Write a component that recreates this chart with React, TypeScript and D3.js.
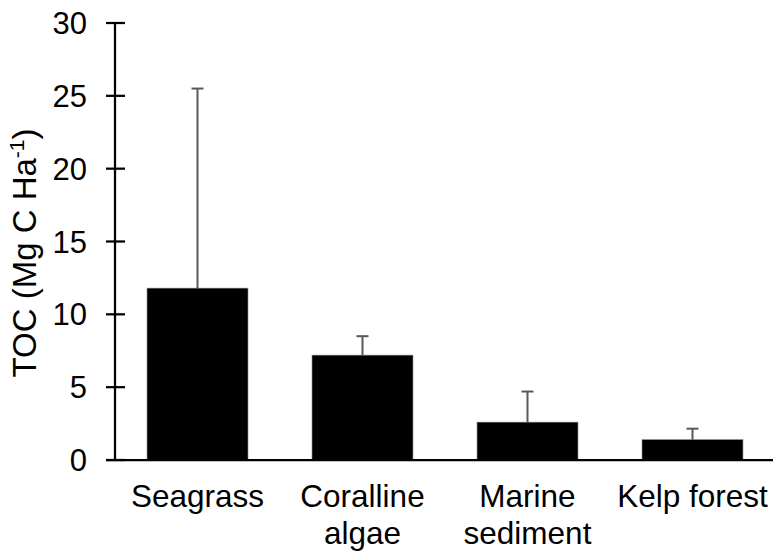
import React from 'react';
import * as d3 from 'd3';

const width = 773;
const height = 552;

const categories = ['Seagrass', 'Coralline algae', 'Marine sediment', 'Kelp forest'];
const labelLines = [['Seagrass'], ['Coralline', 'algae'], ['Marine', 'sediment'], ['Kelp forest']];
const values = [11.8, 7.2, 2.6, 1.4];
const errors = [13.7, 1.3, 2.1, 0.75];
const yTicks = [0, 5, 10, 15, 20, 25, 30];

const font = 'Arial, "Liberation Sans", sans-serif';

export default function App() {
  const x = d3.scaleBand<string>()
    .domain(categories)
    .range([115, 775])
    .paddingInner(0.388)
    .paddingOuter(0.194);
  const y = d3.scaleLinear().domain([0, 30]).range([460, 23]);

  const axisX = 115;

  return (
    <svg width={width} height={height} style={{ position: 'absolute', left: 0, top: 0, background: '#fff' }}>
      {/* bars */}
      {categories.map((c, i) => (
        <rect key={c} x={x(c)} y={y(values[i])} width={x.bandwidth()} height={y(0) - y(values[i])}
          fill="#000" stroke="#8c8c8c" strokeWidth={0.6} />
      ))}
      {/* error bars, upper only */}
      {categories.map((c, i) => {
        const cx = (x(c) as number) + x.bandwidth() / 2;
        const top = y(values[i] + errors[i]);
        return (
          <g key={c} stroke="#595959" strokeWidth={2}>
            <line x1={cx} x2={cx} y1={y(values[i])} y2={top} />
            <line x1={cx - 6} x2={cx + 6} y1={top} y2={top} />
          </g>
        );
      })}
      {/* y axis */}
      <line x1={axisX} x2={axisX} y1={y(30)} y2={y(0)} stroke="#000" strokeWidth={2.25} />
      {yTicks.map(t => (
        <g key={t}>
          <line x1={axisX - 9} x2={axisX + 10} y1={y(t)} y2={y(t)} stroke="#000" strokeWidth={2.25} />
          <text x={87} y={y(t)} dy="0.36em" textAnchor="end" fontFamily={font} fontSize={31} fill="#000">{t}</text>
        </g>
      ))}
      {/* baseline */}
      <line x1={axisX - 9} x2={773} y1={y(0)} y2={y(0)} stroke="#000" strokeWidth={2.25} />
      {/* category labels */}
      {categories.map((c, i) => (
        <text key={c} x={(x(c) as number) + x.bandwidth() / 2} y={507} textAnchor="middle"
          fontFamily={font} fontSize={31.5} fill="#000">
          {labelLines[i].map((l, j) => (
            <tspan key={j} x={(x(c) as number) + x.bandwidth() / 2} dy={j === 0 ? 0 : 37}>{l}</tspan>
          ))}
        </text>
      ))}
      {/* y axis title */}
      <text transform={`translate(36, 253) rotate(-90)`} textAnchor="middle" fontFamily={font} fontSize={33} fill="#000">
        TOC (Mg C Ha<tspan dy={-12} fontSize={21}>-1</tspan><tspan dy={12}>)</tspan>
      </text>
    </svg>
  );
}
